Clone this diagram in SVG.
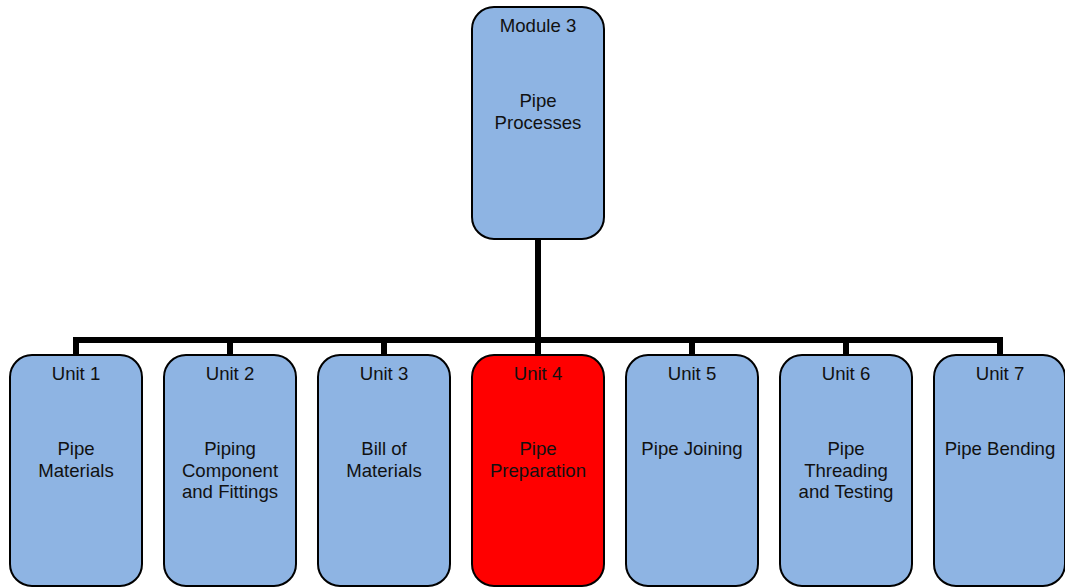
<svg xmlns="http://www.w3.org/2000/svg" width="1065" height="587" viewBox="0 0 1065 587">
<style>
.box{fill:#8eb4e3;stroke:#000;stroke-width:2}
.red{fill:#ff0000;stroke:#000;stroke-width:2}
.t{font-family:"Liberation Sans",Arial,sans-serif;font-size:18.6px;fill:#111;text-anchor:middle}
.c{fill:none;stroke:#000;stroke-width:6}
</style>
<rect width="1065" height="587" fill="#fff"/>
<g id="connectors">
<path class="c" d="M538 239V340"/>
<path class="c" d="M76 355V340H1000V355"/>
<path class="c" d="M230 340V355M384 340V355M538 340V355M692 340V355M846 340V355"/>
</g>
<g id="module3"><rect class="box" x="472" y="7" width="132" height="232" rx="22"/>
<text class="t" x="538" y="32">Module 3</text><text class="t" x="538" y="107">Pipe</text><text class="t" x="538" y="129">Processes</text></g>
<g id="unit1"><rect class="box" x="10" y="355" width="132" height="231" rx="22"/>
<text class="t" x="76" y="380">Unit 1</text><text class="t" x="76" y="455">Pipe</text><text class="t" x="76" y="477">Materials</text></g>
<g id="unit2"><rect class="box" x="164" y="355" width="132" height="231" rx="22"/>
<text class="t" x="230" y="380">Unit 2</text><text class="t" x="230" y="455">Piping</text><text class="t" x="230" y="477">Component</text><text class="t" x="230" y="498">and Fittings</text></g>
<g id="unit3"><rect class="box" x="318" y="355" width="132" height="231" rx="22"/>
<text class="t" x="384" y="380">Unit 3</text><text class="t" x="384" y="455">Bill of</text><text class="t" x="384" y="477">Materials</text></g>
<g id="unit4"><rect class="red" x="472" y="355" width="132" height="231" rx="22"/>
<text class="t" x="538" y="380">Unit 4</text><text class="t" x="538" y="455">Pipe</text><text class="t" x="538" y="477">Preparation</text></g>
<g id="unit5"><rect class="box" x="626" y="355" width="132" height="231" rx="22"/>
<text class="t" x="692" y="380">Unit 5</text><text class="t" x="692" y="455">Pipe Joining</text></g>
<g id="unit6"><rect class="box" x="780" y="355" width="132" height="231" rx="22"/>
<text class="t" x="846" y="380">Unit 6</text><text class="t" x="846" y="455">Pipe</text><text class="t" x="846" y="477">Threading</text><text class="t" x="846" y="498">and Testing</text></g>
<g id="unit7"><rect class="box" x="934" y="355" width="131" height="231" rx="22"/>
<text class="t" x="1000" y="380">Unit 7</text><text class="t" x="1000" y="455">Pipe Bending</text></g>
</svg>
